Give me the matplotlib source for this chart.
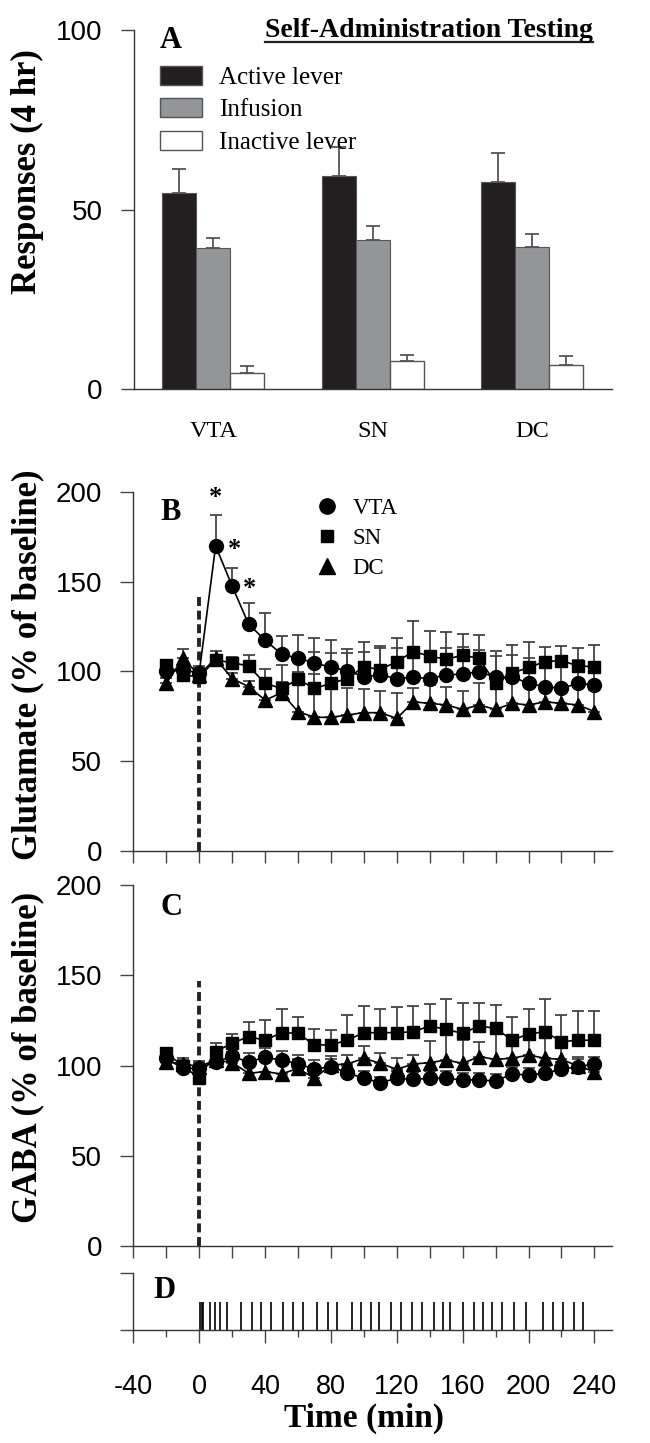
import matplotlib
matplotlib.use("Agg")
import matplotlib.pyplot as plt
from matplotlib.lines import Line2D
from matplotlib.patches import Patch
from matplotlib.ticker import MultipleLocator

plt.rcParams["axes.unicode_minus"] = False

W, H = 650, 1443
SERIF = "Liberation Serif"
SANS = "Liberation Sans"

# ---- panel A: self-administration ----
regions = ["VTA", "SN", "DC"]
active = [54.6, 59.3, 57.6]
active_err = [6.7, 8.1, 8.1]
infusion = [39.2, 41.6, 39.6]
infusion_err = [2.8, 3.8, 3.7]
inactive = [4.5, 7.7, 6.6]
inactive_err = [2.0, 1.9, 2.5]

# ---- panels B/C: time course ----
time_min = [-20, -10, 0, 10, 20, 30, 40, 50, 60, 70, 80, 90, 100, 110, 120,
            130, 140, 150, 160, 170, 180, 190, 200, 210, 220, 230, 240]

glu_vta = [100, 101, 99, 169.8, 147.5, 126.3, 117.4, 109.6, 107.2, 104.8, 102.2, 100.4, 97,
           98, 96, 96.7, 96, 98, 98.5, 99.8, 96.7, 97, 93.3, 91.5, 90.5, 93.3, 92.4]
glu_vta_err = [3, 3, 4, 17, 10, 12, 15, 10, 13, 14, 15, 12, 14,
               15, 17, 14, 14, 15, 15, 12, 12, 12, 14, 12, 12, 13, 13]
glu_sn = [103.5, 98, 97, 106.3, 104.8, 103, 93.3, 90.5, 95.5, 90.5, 93.3, 96, 102.6,
          101, 105.4, 111, 108.5, 106.7, 109, 107.2, 93.3, 98.9, 102.2, 105.4, 106, 103, 102.6]
glu_sn_err = [3, 3, 4, 3, 3, 6, 8, 13, 13, 20, 17, 14, 14,
              13, 13, 17, 14, 15, 12, 13, 18, 16, 14, 8, 8, 10, 12]
glu_dc = [93.3, 107.2, 98, 107.2, 96, 91.5, 84, 88, 77.6, 74.4, 74.4, 75.7, 77,
          77, 73.8, 83, 82.2, 81.3, 78.8, 81.3, 78.8, 82.2, 81.3, 83, 82.2, 81.3, 77.6]
glu_dc_err = [3, 5, 4, 4, 3, 3, 6, 6, 22, 24, 22, 15, 13,
              12, 14, 8, 10, 10, 10, 12, 12, 12, 13, 10, 10, 10, 12]

gaba_vta = [104, 98.4, 98.4, 102, 105, 102, 104.5, 103, 101, 97.9, 99.4, 96, 92.9,
            90.5, 92.9, 92.3, 92.9, 92.9, 92, 92, 91.4, 95.3, 94.7, 95.7, 97.9, 99.4, 100.8]
gaba_vta_err = [3, 3, 3, 4, 5, 5, 5, 5, 5, 5, 4, 4, 4,
                3, 4, 4, 4, 4, 4, 4, 4, 4, 4, 4, 4, 4, 4]
gaba_sn = [106.7, 100, 92.9, 107.7, 112.3, 116, 114, 118.2, 117.8, 111.4, 111.4, 114, 118.2,
           118.2, 118.2, 118.7, 121.9, 120, 117.8, 121.9, 120.6, 114, 117.5, 118.7, 113.2, 114, 114]
gaba_sn_err = [3, 3, 4, 5, 5, 8, 11, 13, 9, 9, 8, 14, 15,
               13, 14, 14, 12, 17, 17, 13, 13, 13, 14, 18, 15, 16, 16]
gaba_dc = [102, 101, 99.4, 103, 101.6, 95.7, 96.6, 95.3, 98.4, 92.9, 100.3, 100.8, 104,
           101.2, 97.9, 100.8, 101.6, 103, 101.2, 104.9, 103.4, 104, 105.8, 104, 103.4, 99.7, 96.6]
gaba_dc_err = [3, 3, 3, 4, 6, 6, 6, 6, 5, 6, 5, 5, 7,
               6, 6, 5, 12, 16, 13, 8, 15, 8, 12, 12, 8, 5, 4]

# ---- panel D: infusion events (min) ----
infusions = [0.8, 1.5, 2.5, 6.3, 9.6, 12.6, 17.2, 25.5, 31.8, 37.5, 43.6, 50.9, 56.7,
             62.8, 71.4, 78.1, 83.8, 93.0, 98.5, 104.1, 109.3, 116.2, 122.3, 129.1,
             135.2, 142.5, 148.2, 152.5, 160.0, 167.0, 172.6, 178.0, 184.1, 191.0,
             198.5, 208.7, 214.8, 221.1, 227.4, 233.2]

# asterisk positions (time, y)
stars = [(10, 197), (21.5, 168), (30.5, 146)]


def px_axes(x0, y_top, x1, y_bot):
    return [x0 / W, 1 - y_bot / H, (x1 - x0) / W, (y_bot - y_top) / H]


def style_axes(ax):
    for s in ["top", "right"]:
        ax.spines[s].set_visible(False)
    for s in ["left", "bottom"]:
        ax.spines[s].set_linewidth(1.0)
        ax.spines[s].set_color("#333333")
    ax.tick_params(axis="y", length=9.4, width=1.0, color="#444444", pad=13,
                   labelsize=20)
    for lab in ax.get_yticklabels():
        lab.set_fontfamily(SANS)


fig = plt.figure(figsize=(W / 100, H / 100), dpi=100)

# ================= A =================
axA = fig.add_axes(px_axes(133.5, 30, 612, 389))
bw = 0.213
xs = list(range(len(regions)))
ekw = dict(ecolor="#555555", elinewidth=1.3, capsize=4.7, capthick=1.3)
axA.bar([x - bw for x in xs], active, bw, color="#231f20", edgecolor="#555555",
        linewidth=0.8, yerr=[[0] * 3, active_err], error_kw=ekw, label="Active lever")
axA.bar(xs, infusion, bw, color="#939598", edgecolor="#555555",
        linewidth=0.8, yerr=[[0] * 3, infusion_err], error_kw=ekw, label="Infusion")
axA.bar([x + bw for x in xs], inactive, bw, color="white", edgecolor="#555555",
        linewidth=1.0, yerr=[[0] * 3, inactive_err], error_kw=ekw, label="Inactive lever")
axA.set_xlim(-0.5, 2.5)
axA.set_ylim(0, 100)
axA.set_yticks([0, 50, 100])
axA.set_xticks(xs)
axA.set_xticklabels(regions, fontfamily=SERIF, fontsize=17.5)
style_axes(axA)
axA.tick_params(axis="x", length=0, pad=23)
axA.set_ylabel("Responses (4 hr)", fontfamily=SERIF, fontweight="bold", fontsize=25)
axA.yaxis.set_label_coords((44 - 133.5) / 478.5, (389 - 172) / 359)

hA = [Patch(facecolor="#231f20", edgecolor="#555555"),
      Patch(facecolor="#939598", edgecolor="#555555"),
      Patch(facecolor="white", edgecolor="#555555")]
axA.legend(hA, ["Active lever", "Infusion", "Inactive lever"], loc="upper left",
           bbox_to_anchor=(160 / W, 1 - 66 / H), bbox_transform=fig.transFigure,
           frameon=False, borderpad=0, borderaxespad=0, handlelength=1.68,
           handleheight=0.8, handletextpad=0.68, labelspacing=0.36,
           prop={"family": SERIF, "size": 18})


# ================= B / C =================
def timecourse(ax, vta, vta_err, sn, sn_err, dc, dc_err, dash_top):
    eb = dict(ecolor="#444444", elinewidth=1.3, capsize=4.3, capthick=1.3, color="black",
              lw=1.2, zorder=3)
    ax.errorbar(time_min, vta, yerr=[[0] * len(vta), vta_err], marker="o", ms=10, **eb)
    ax.errorbar(time_min, dc, yerr=[[0] * len(dc), dc_err], marker="^", ms=10, **eb)
    ax.errorbar(time_min, sn, yerr=[[0] * len(sn), sn_err], marker="s", ms=8.6, **eb)
    ax.plot([0, 0], [0, dash_top], color="#222222", lw=2.8, ls=(0, (2.3, 1.2)), zorder=2)
    ax.set_xlim(-40, 250.5)
    ax.set_ylim(0, 200)
    ax.set_yticks([0, 50, 100, 150, 200])
    ax.xaxis.set_major_locator(MultipleLocator(20))
    ax.set_xticklabels([])
    style_axes(ax)
    ax.tick_params(axis="x", length=8.6, width=1.0, color="#444444")


axB = fig.add_axes(px_axes(133.3, 491.7, 611.7, 851))
timecourse(axB, glu_vta, glu_vta_err, glu_sn, glu_sn_err, glu_dc, glu_dc_err, 142)
for t, y in stars:
    axB.text(t, y, "*", fontfamily=SERIF, fontsize=19, fontweight="bold",
             ha="center", va="center")
hB = [Line2D([], [], color="black", marker=m, ls="none", ms=s)
      for m, s in [("o", 11), ("s", 9), ("^", 11)]]
axB.legend(hB, ["VTA", "SN", "DC"], loc="upper left",
           bbox_to_anchor=(316 / W, 1 - 498 / H), bbox_transform=fig.transFigure,
           frameon=False, borderpad=0, borderaxespad=0, handlelength=1.0,
           handletextpad=0.6, labelspacing=0.38, prop={"family": SERIF, "size": 16.5})

axC = fig.add_axes(px_axes(133.3, 885, 611.7, 1246))
timecourse(axC, gaba_vta, gaba_vta_err, gaba_sn, gaba_sn_err, gaba_dc, gaba_dc_err, 147)

axB.set_ylabel("Glutamate (% of baseline)", fontfamily=SERIF, fontweight="bold", fontsize=25)
axB.yaxis.set_label_coords((44 - 133.3) / 478.4, (851 - 665) / 359.3)
axC.set_ylabel("GABA (% of baseline)", fontfamily=SERIF, fontweight="bold", fontsize=25)
axC.yaxis.set_label_coords((44 - 133.3) / 478.4, (1246 - 1057) / 361)

# ================= D =================
axD = fig.add_axes(px_axes(133.3, 1273, 611.7, 1330))
axD.vlines(infusions, 0, 0.5, color="black", lw=1.2)
axD.set_xlim(-40, 250.5)
axD.set_ylim(0, 1)
axD.set_yticks([0, 1])
axD.set_yticklabels([])
axD.xaxis.set_major_locator(MultipleLocator(40))
axD.xaxis.set_minor_locator(MultipleLocator(20))
style_axes(axD)
axD.tick_params(axis="y", length=9.4)
axD.tick_params(axis="x", which="major", length=9.4, width=1.0, color="#444444",
                pad=22, labelsize=19.5)
axD.tick_params(axis="x", which="minor", length=5, width=1.0, color="#444444")
for lab in axD.get_xticklabels():
    lab.set_fontfamily(SANS)
fig.text(363.9 / W, 1 - 1418 / H, "Time (min)", fontfamily=SERIF, fontweight="bold",
         fontsize=24, ha="center", va="center")

# panel letters
for x, y, s in [(160, 48, "A"), (160, 520, "B"), (160, 915, "C"), (153, 1298, "D")]:
    fig.text(x / W, 1 - y / H, s, fontfamily=SERIF, fontweight="bold", fontsize=22,
             ha="left", va="baseline")

# title with underline
title = fig.text(593 / W, 1 - 37 / H, "Self-Administration Testing", fontfamily=SERIF,
                 fontweight="bold", fontsize=20, ha="right", va="baseline")
fig.canvas.draw()
bb = title.get_window_extent(fig.canvas.get_renderer())
y_ul = 1 - 42 / H
fig.add_artist(Line2D([bb.x0 / W, bb.x1 / W], [y_ul, y_ul], color="#222222", lw=1.6))

fig.savefig("out.png", dpi=100)
